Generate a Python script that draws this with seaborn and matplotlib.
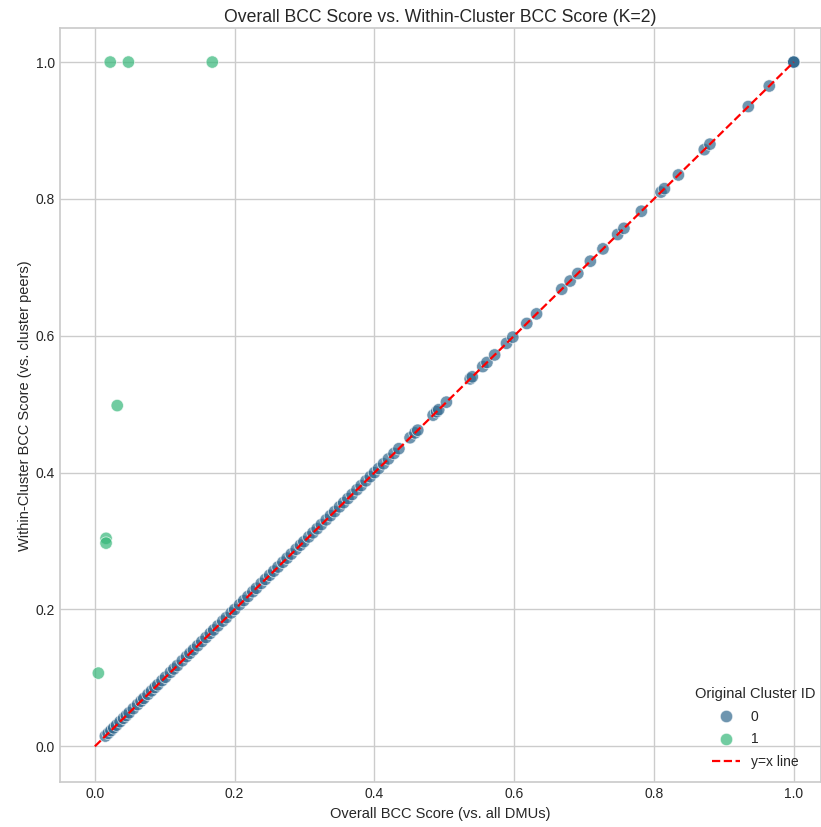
import numpy as np
import pandas as pd
import matplotlib
matplotlib.use("Agg")
import matplotlib.pyplot as plt
import seaborn as sns

# Cluster 0 (points on y = x)
c0_overall = [0.015, 0.019, 0.023, 0.027, 0.031, 0.036, 0.041, 0.045, 0.049, 0.055,
              0.061, 0.066, 0.070, 0.076, 0.081, 0.086, 0.090, 0.096, 0.101, 0.108,
              0.113, 0.118, 0.125, 0.131, 0.136, 0.141, 0.147, 0.153, 0.159, 0.165,
              0.170, 0.176, 0.183, 0.188, 0.195, 0.200, 0.207, 0.213, 0.219, 0.226,
              0.231, 0.238, 0.244, 0.250, 0.256, 0.262, 0.269, 0.275, 0.281, 0.288,
              0.294, 0.299, 0.306, 0.312, 0.318, 0.324, 0.331, 0.337, 0.343, 0.350,
              0.356, 0.362, 0.368, 0.375, 0.381, 0.388, 0.394, 0.400, 0.406, 0.413,
              0.420, 0.428, 0.435, 0.451, 0.458, 0.462, 0.484, 0.489, 0.492, 0.503,
              0.537, 0.540, 0.555, 0.561, 0.572, 0.589, 0.598, 0.618, 0.632, 0.668,
              0.680, 0.691, 0.709, 0.727, 0.748, 0.757, 0.782, 0.810, 0.815, 0.835,
              0.872, 0.880, 0.935, 0.965, 1.000, 1.000, 1.000]
c0_within = list(c0_overall)

# Cluster 1
c1_overall = [0.022, 0.048, 0.168, 0.032, 0.016, 0.016, 0.005]
c1_within = [1.000, 1.000, 1.000, 0.498, 0.304, 0.297, 0.107]

title = "Overall BCC Score vs. Within-Cluster BCC Score (K=2)"
xlabel = "Overall BCC Score (vs. all DMUs)"
ylabel = "Within-Cluster BCC Score (vs. cluster peers)"

df = pd.DataFrame({
    "overall": c0_overall + c1_overall,
    "within": c0_within + c1_within,
    "Original Cluster ID": [0] * len(c0_overall) + [1] * len(c1_overall),
})

sns.set_theme(style="whitegrid")
plt.rcParams["font.family"] = ["Liberation Sans", "DejaVu Sans"]

fig = plt.figure(figsize=(8.21, 8.27), dpi=100)
ax = fig.add_axes([0.073, 0.054, 0.927, 0.912])

palette = sns.color_palette("viridis", 2)
sns.scatterplot(data=df, x="overall", y="within", hue="Original Cluster ID",
                palette=palette, s=80, alpha=0.7, edgecolor="white", linewidth=0.6, ax=ax)
ax.plot([0, 1], [0, 1], color="red", linestyle="--", linewidth=1.6, label="y=x line")

ax.set_title(title, fontsize=12.7, pad=4.5)
ax.set_xlabel(xlabel, fontsize=10.5, labelpad=4)
ax.set_ylabel(ylabel, fontsize=10.5, labelpad=3)
ax.tick_params(labelsize=10, length=0, pad=3.5)
ax.set_xlim(-0.05, 1.039)
ax.set_ylim(-0.0526, 1.0496)

leg = ax.legend(title="Original Cluster ID", loc="lower right", frameon=False,
                fontsize=10, title_fontsize=10.5, labelspacing=0.62,
                bbox_to_anchor=(1.009, 0.001))

fig.savefig("out.png", dpi=100)
